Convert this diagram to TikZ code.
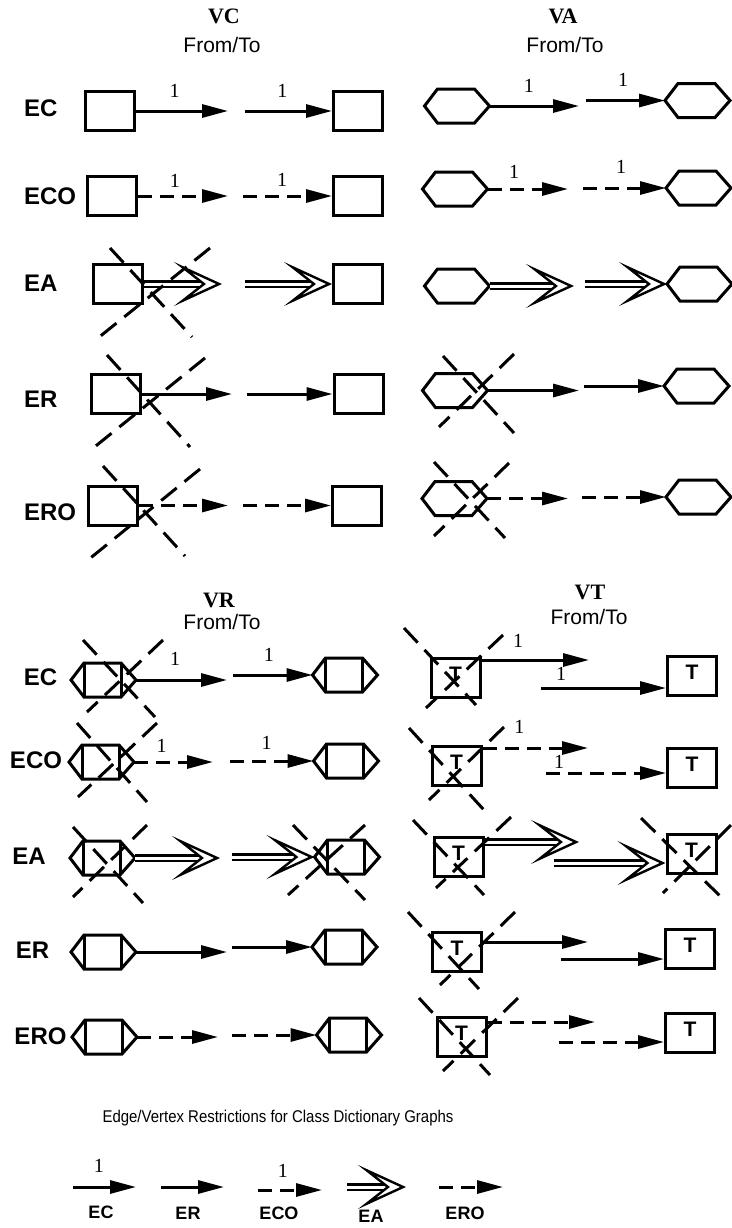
\documentclass[tikz,border=0pt]{standalone}
\usepackage{fontspec}
\setmainfont{Liberation Serif}
\setsansfont{Liberation Sans}
\usetikzlibrary{arrows.meta, positioning}

\begin{document}
\begin{tikzpicture}[
  x=0.5pt, y=-0.5pt,
  box/.style={rectangle, draw, line width=1.5pt, minimum width=24.5pt, minimum height=19.5pt, inner sep=0pt},
  tbox/.style={box, font=\sffamily\bfseries\fontsize{10.5}{12}\selectfont, text height=7.5pt, text depth=4pt},
  slot/.style={rectangle, minimum width=32.5pt, minimum height=17pt, inner sep=0pt, outer sep=0pt},
  outline/.style={line width=1.5pt, line join=miter},
  rowlbl/.style={font=\sffamily\bfseries\fontsize{12}{14}\selectfont},
  keylbl/.style={font=\sffamily\bfseries\fontsize{9}{11}\selectfont},
  title/.style={font=\bfseries\fontsize{11}{13}\selectfont},
  fromto/.style={font=\sffamily\fontsize{10.5}{12}\selectfont},
  one/.style={font=\fontsize{10}{12}\selectfont, inner sep=1pt},
  ec/.style={draw, line width=1.5pt, -{Triangle[length=13pt, width=6.5pt]}},
  eco/.style={ec, dash pattern=on 7pt off 4pt},
  ea/.style={draw, double, double distance=1.5pt, line width=1.2pt,
    -{Stealth[length=24pt, width=22pt, inset=14pt, fill=white, line width=1.2pt]}},
  nix/.style={draw, line width=1.5pt, dash pattern=on 10pt off 5pt}
]
  \useasboundingbox (0,0) rectangle (732,1228);

  % column titles
  \node[title]  (tvc) at (224,16)  {VC};
  \node[fromto] (fvc) at (222,45)  {From/To};
  \node[title]  (tva) at (563,16)  {VA};
  \node[fromto] (fva) at (565,45)  {From/To};
  \node[title]  (tvr) at (219,600) {VR};
  \node[fromto] (fvr) at (222,622) {From/To};
  \node[title]  (tvt) at (590,592) {VT};
  \node[fromto] (fvt) at (589,617) {From/To};

  % row labels
  \node[rowlbl, anchor=west] (lec1)  at (17,108) {EC};
  \node[rowlbl, anchor=west] (leco1) at (17,196) {ECO};
  \node[rowlbl, anchor=west] (lea1)  at (17,283) {EA};
  \node[rowlbl, anchor=west] (ler1)  at (17,399) {ER};
  \node[rowlbl, anchor=west] (lero1) at (17,512) {ERO};
  \node[rowlbl] (lec2)  at (40.5,677) {EC};
  \node[rowlbl] (leco2) at (36,760)   {ECO};
  \node[rowlbl] (lea2)  at (29,856)   {EA};
  \node[rowlbl] (ler2)  at (32.5,950) {ER};
  \node[rowlbl] (lero2) at (40.5,1036) {ERO};

  % VC boxes
  \node[box] (c1l) at (110,111)   {};
  \node[box] (c1r) at (358,111)   {};
  \node[box] (c2l) at (112,196)   {};
  \node[box] (c2r) at (358,196)   {};
  \node[box] (c3l) at (117.5,284) {};
  \node[box] (c3r) at (358,284)   {};
  \node[box] (c4l) at (115.5,394) {};
  \node[box] (c4r) at (358.5,394) {};
  \node[box] (c5l) at (112.5,505.5) {};
  \node[box] (c5r) at (357,505.5) {};

  % VA hexagons
  \node[slot] (a1l) at (457,106)     {};
  \node[slot] (a1r) at (697.5,100.5) {};
  \node[slot] (a2l) at (455,189)     {};
  \node[slot] (a2r) at (698.5,188)   {};
  \node[slot] (a3l) at (457,286)     {};
  \node[slot] (a3r) at (699.5,284)   {};
  \node[slot] (a4l) at (455,390.5)   {};
  \node[slot] (a4r) at (696.5,386)   {};
  \node[slot] (a5l) at (454.5,498.5) {};
  \node[slot] (a5r) at (698.5,497)   {};

  % VR shapes
  \node[slot] (r1l) at (103.5,680)  {};
  \node[slot] (r1r) at (345,675)    {};
  \node[slot] (r2l) at (101.5,762)  {};
  \node[slot] (r2r) at (346,761)    {};
  \node[slot] (r3l) at (102.5,858)  {};
  \node[slot] (r3r) at (347,857)    {};
  \node[slot] (r4l) at (103.5,952)  {};
  \node[slot] (r4r) at (344.5,947)  {};
  \node[slot] (r5l) at (104.5,1037) {};
  \node[slot] (r5r) at (349,1035)   {};

  % VT boxes
  \node[tbox] (t1l) at (455.5,677.5)  {T};
  \node[tbox] (t1r) at (692,676)      {T};
  \node[tbox] (t2l) at (456.5,765.5)  {T};
  \node[tbox] (t2r) at (692,767.5)    {T};
  \node[tbox] (t3l) at (458.5,856.5)  {T};
  \node[tbox] (t3r) at (691.5,854)    {T};
  \node[tbox] (t4l) at (457,951.5)    {T};
  \node[tbox] (t4r) at (690,948.5)    {T};
  \node[tbox] (t5l) at (461.5,1036.5) {T};
  \node[tbox] (t5r) at (690,1033)     {T};

  \foreach \n in {a1l,a1r,a2l,a2r,a3l,a3r,a4l,a4r,a5l,a5r,r1l,r1r,r2l,r2r,r3l,r3r,r4l,r4r,r5l,r5r}
    \draw[outline] (\n.west) -- ([xshift=6.5pt]\n.north west) -- ([xshift=-7.5pt]\n.north east)
      -- (\n.east) -- ([xshift=-7.5pt]\n.south east) -- ([xshift=6.5pt]\n.south west) -- cycle;
  \foreach \n in {r1l,r1r,r2l,r2r,r3l,r3r,r4l,r4r,r5l,r5r}
    \draw[outline] ([xshift=6.5pt]\n.north west) -- ([xshift=6.5pt]\n.south west)
      ([xshift=-7.5pt]\n.north east) -- ([xshift=-7.5pt]\n.south east);

  % break points of the edges
  \coordinate (c1a) at (228,111);   \coordinate (c1b) at (245,111);
  \coordinate (c2a) at (228,196);   \coordinate (c2b) at (243,196);
  \coordinate (c3a) at (222,284);   \coordinate (c3b) at (245,284);
  \coordinate (c4a) at (232,394);   \coordinate (c4b) at (247,394);
  \coordinate (c5a) at (228,505.5); \coordinate (c5b) at (243,505.5);
  \coordinate (a1a) at (579,106);   \coordinate (a1b) at (586,100.5);
  \coordinate (a2a) at (568,189);   \coordinate (a2b) at (583,188);
  \coordinate (a3a) at (574,286);   \coordinate (a3b) at (585,284);
  \coordinate (a4a) at (579,390.5); \coordinate (a4b) at (584,386);
  \coordinate (a5a) at (568,498.5); \coordinate (a5b) at (582,497);
  \coordinate (r1a) at (227,680);   \coordinate (r1b) at (233,675);
  \coordinate (r2a) at (213,762);   \coordinate (r2b) at (230,761);
  \coordinate (r3a) at (220,858);   \coordinate (r3b) at (232,857);
  \coordinate (r4a) at (227,952);   \coordinate (r4b) at (232,947);
  \coordinate (r5a) at (218,1037);  \coordinate (r5b) at (232,1035);
  \coordinate (t1s) at ([yshift=-1.75pt]t1l.north east); \coordinate (t1a) at (589,660);
  \coordinate (t1b) at (541,688);   \coordinate (t1e) at ([yshift=-6pt]t1r.west);
  \coordinate (t2s) at ([yshift=-1.75pt]t2l.north east); \coordinate (t2a) at (588,748);
  \coordinate (t2b) at (546,773);   \coordinate (t2e) at ([yshift=-2.75pt]t2r.west);
  \coordinate (t3s) at ([yshift=-3.25pt]t3l.north east); \coordinate (t3a) at (579,842);
  \coordinate (t3b) at (554,863);   \coordinate (t3e) at ([yshift=-4.5pt]t3r.west);
  \coordinate (t4s) at ([yshift=-5.75pt]t4l.north east); \coordinate (t4a) at (588,942);
  \coordinate (t4b) at (561,959);   \coordinate (t4e) at ([yshift=-5.25pt]t4r.west);
  \coordinate (t5s) at ([yshift=-3.25pt]t5l.north east); \coordinate (t5a) at (595,1022);
  \coordinate (t5b) at (559,1042);  \coordinate (t5e) at ([yshift=-4.5pt]t5r.west);

  % VC edges
  \draw[ec]  (c1l) -- node[one, pos=.42, above=5pt] {1} (c1a);
  \draw[ec]  (c1b) -- node[one, pos=.43, above=5pt] {1} (c1r);
  \draw[eco] (c2l) -- node[one, pos=.41, above=2.5pt] {1} (c2a);
  \draw[eco] (c2b) -- node[one, pos=.44, above=3pt] {1} (c2r);
  \draw[ea]  (c3l) -- (c3a);
  \draw[ea]  (c3b) -- (c3r);
  \draw[ec]  (c4l) -- (c4a);
  \draw[ec]  (c4b) -- (c4r);
  \draw[eco] (c5l) -- (c5a);
  \draw[eco] (c5b) -- (c5r);

  % VA edges
  \draw[ec]  (a1l) -- node[one, pos=.44, above=5pt] {1} (a1a);
  \draw[ec]  (a1b) -- node[one, pos=.47, above=5.5pt] {1} (a1r);
  \draw[eco] (a2l) -- node[one, pos=.33, above=3.5pt] {1} (a2a);
  \draw[eco] (a2b) -- node[one, pos=.46, above=5.5pt] {1} (a2r);
  \draw[ea]  (a3l) -- (a3a);
  \draw[ea]  (a3b) -- (a3r);
  \draw[ec]  (a4l) -- (a4a);
  \draw[ec]  (a4b) -- (a4r);
  \draw[eco] (a5l) -- (a5a);
  \draw[eco] (a5b) -- (a5r);

  % VR edges
  \draw[ec]  (r1l) -- node[one, pos=.43, above=5.5pt] {1} (r1a);
  \draw[ec]  (r1b) -- node[one, pos=.45, above=5pt] {1} (r1r);
  \draw[eco] (r2l) -- node[one, pos=.35, above=3pt] {1} (r2a);
  \draw[eco] (r2b) -- node[one, pos=.44, above=4pt] {1} (r2r);
  \draw[ea]  (r3l) -- (r3a);
  \draw[ea]  (r3b) -- (r3r);
  \draw[ec]  (r4l) -- (r4a);
  \draw[ec]  (r4b) -- (r4r);
  \draw[eco] (r5l) -- (r5a);
  \draw[eco] (r5b) -- (r5r);

  % VT edges
  \draw[ec]  (t1s) -- node[one, pos=.34, above=4.5pt] {1} (t1a);
  \draw[ec]  (t1b) -- node[one, pos=.16, above=2pt] {1} (t1e);
  \draw[eco] (t2s) -- node[one, pos=.35, above=5.5pt] {1} (t2a);
  \draw[eco] (t2b) -- node[one, pos=.11, above=0.5pt] {1} (t2e);
  \draw[ea]  (t3s) -- (t3a);
  \draw[ea]  (t3b) -- (t3e);
  \draw[ec]  (t4s) -- (t4a);
  \draw[ec]  (t4b) -- (t4e);
  \draw[eco] (t5s) -- (t5a);
  \draw[eco] (t5b) -- (t5e);

  % crossed out vertices
  \draw[nix, shift={(152,294)}]  (-42,-46) -- (40,43)  (58,-46) -- (-54,44);
  \draw[nix, shift={(150,402)}]  (-43,-47) -- (40,45)  (55,-44) -- (-58,47);
  \draw[nix, shift={(146,513)}]  (-43,-47) -- (39,43)  (54,-44) -- (-58,47);
  \draw[nix, shift={(476,391)}]  (-33,-35) -- (38,42)  (38,-37) -- (-37,36);
  \draw[nix, shift={(471,500)}]  (-37,-38) -- (34,38)  (38,-37) -- (-37,36);
  \draw[nix, shift={(121,680)}]  (-38,-40) -- (34,37)  (42,-40) -- (-34,32);
  \draw[nix, shift={(117,762)}]  (-40,-39) -- (30,40)  (40,-39) -- (-39,35);
  \draw[nix, shift={(107,864)}]  (-34,-37) -- (36,39)  (40,-39) -- (-34,33);
  \draw[nix, shift={(328,861)}]  (-35,-36) -- (37,39)  (37,-36) -- (-40,34);
  \draw[nix, shift={(454,681)}]  (-50,-53) -- (22,24)  (49,-46) -- (-28,27);
  \draw[nix, shift={(453,776)}]  (-44,-48) -- (31,34)  (51,-49) -- (-24,24);
  \draw[nix, shift={(458,867)}]  (-45,-47) -- (26,28)  (53,-50) -- (-22,21);
  \draw[nix, shift={(690,866)}]  (-49,-48) -- (31,31)  (41,-41) -- (-27,27);
  \draw[nix, shift={(459,967)}]  (-51,-55) -- (20,22)  (56,-55) -- (-19,18);
  \draw[nix, shift={(466,1049)}] (-47,-51) -- (24,26)  (52,-51) -- (-23,22);

  % caption
  \node[font=\sffamily\fontsize{8.5}{10}\selectfont] (cap) at (278,1118)
    {\scalebox{.88}[1]{Edge/Vertex Restrictions for Class Dictionary Graphs}};

  % key
  \coordinate (k1a) at (73,1187);  \coordinate (k1b) at (136,1187);
  \coordinate (k2a) at (161,1187); \coordinate (k2b) at (224,1187);
  \coordinate (k3a) at (258,1190); \coordinate (k3b) at (322,1190);
  \coordinate (k4a) at (347,1187); \coordinate (k4b) at (406,1187);
  \coordinate (k5a) at (439,1187); \coordinate (k5b) at (503,1187);
  \draw[ec]  (k1a) -- node[one, pos=.41, above=5.5pt] {1} (k1b);
  \draw[ec]  (k2a) -- (k2b);
  \draw[eco] (k3a) -- node[one, pos=.39, above=4.5pt] {1} (k3b);
  \draw[ea]  (k4a) -- (k4b);
  \draw[eco] (k5a) -- (k5b);
  \node[keylbl] (kec)  at (101,1212) {EC};
  \node[keylbl] (ker)  at (188,1213) {ER};
  \node[keylbl] (keco) at (279,1213) {ECO};
  \node[keylbl] (kea)  at (371,1216) {EA};
  \node[keylbl] (kero) at (465,1213) {ERO};
\end{tikzpicture}
\end{document}
